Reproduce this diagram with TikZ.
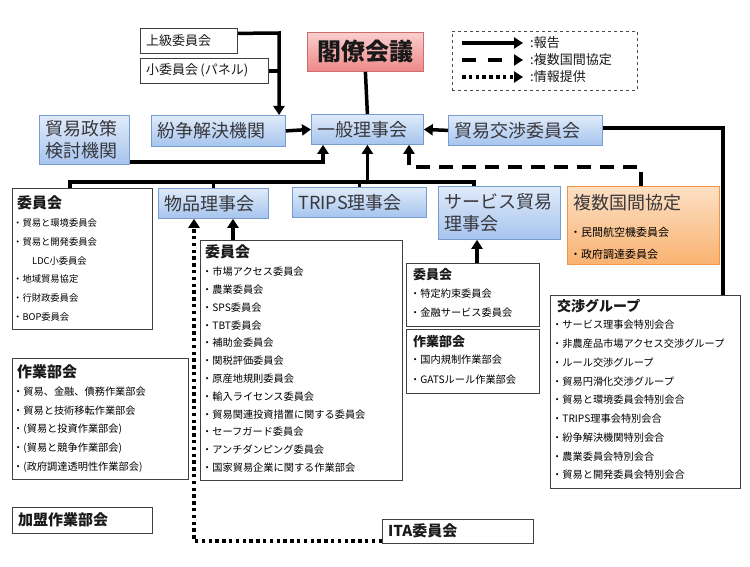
\documentclass[tikz,border=0pt]{standalone}
\usepackage{fontspec}
\setmainfont{Noto Sans CJK JP}
\usetikzlibrary{arrows.meta}
\definecolor{bluetop}{RGB}{224,235,250}
\definecolor{bluebot}{RGB}{166,196,238}
\definecolor{blueline}{RGB}{118,156,208}
\definecolor{redtop}{RGB}{250,206,206}
\definecolor{redbot}{RGB}{238,136,136}
\definecolor{redline}{RGB}{205,110,108}
\definecolor{orgtop}{RGB}{253,224,196}
\definecolor{orgbot}{RGB}{249,178,112}
\definecolor{orgline}{RGB}{240,150,70}
\definecolor{textgray}{RGB}{55,55,60}
\begin{document}
\begin{tikzpicture}[x=1pt,y=-1pt,
  bluebox/.style={draw=blueline, line width=0.8pt, top color=bluetop, bottom color=bluebot,
    text=textgray, font=\fontsize{18}{22}\selectfont, align=left, inner xsep=6pt, inner ysep=0pt, anchor=north west},
  plainbox/.style={draw=black!75, line width=0.8pt, fill=white, anchor=north west, inner sep=0pt},
  conline/.style={line width=3.5pt},
  conn/.style={line width=3.5pt, -{Triangle[length=9pt,width=11pt]}},
  dashconn/.style={line width=3.5pt, dash pattern=on 14pt off 9pt, -{Triangle[length=9pt,width=11pt]}},
  dotconn/.style={line width=3.5pt, dash pattern=on 3.5pt off 3.3pt, -{Triangle[length=9pt,width=11pt]}},
  item/.style={anchor=west, inner sep=0pt, text=black, font=\fontsize{10.2}{12}\selectfont},
  smallitem/.style={anchor=west, inner sep=0pt, text=black, font=\fontsize{9.3}{11}\selectfont},
  head/.style={anchor=west, inner sep=0pt, text=black!90, font=\bfseries\fontsize{15}{18}\selectfont},
  headsm/.style={anchor=west, inner sep=0pt, text=black!90, font=\bfseries\fontsize{13}{16}\selectfont},
  legtext/.style={anchor=west, inner sep=0pt, text=black!90, font=\fontsize{13}{15}\selectfont}]
\useasboundingbox (0,0) rectangle (750,567);
\fill[white] (0,0) rectangle (750,567);

% ---- top boxes
\node[draw=redline, line width=0.8pt, top color=redtop, bottom color=redbot, anchor=north west,
  minimum width=116pt, minimum height=39pt, inner sep=0pt, text=black!90,
  font=\bfseries\fontsize{24}{28}\selectfont] (kakuryo) at (307,32) {閣僚会議};
\node[plainbox, minimum width=97pt, minimum height=25pt] (jokyu) at (140,28) {};
\node[anchor=west, inner sep=0pt, font=\fontsize{13}{15}\selectfont, text=black!90] (jokyut) at (146,40.5) {上級委員会};
\node[plainbox, minimum width=128pt, minimum height=25pt] (shoi) at (140,58) {};
\node[anchor=west, inner sep=0pt, font=\fontsize{13}{15}\selectfont, text=black!90] (shoit) at (146,70.5) {小委員会\,(パネル)};

\node[bluebox, text width=78pt, minimum height=49pt] (seisaku) at (39,115) {貿易政策\\検討機関};
\node[bluebox, text width=122pt, minimum height=31pt] (funso) at (151,115) {紛争解決機関};
\node[bluebox, text width=100pt, minimum height=30pt] (ippan) at (311,114) {一般理事会};
\node[bluebox, text width=142pt, minimum height=30pt] (kosho) at (448,115) {貿易交渉委員会};

% ---- legend
\node[draw=black!70, dashed, line width=0.8pt, anchor=north west, minimum width=185pt, minimum height=59pt, inner sep=0pt] (legend) at (452,31) {};
\coordinate (l1a) at (462,43); \coordinate (l1b) at (523,43);
\coordinate (l2a) at (462,60); \coordinate (l2b) at (523,60);
\coordinate (l3a) at (462,77); \coordinate (l3b) at (523,77);
\draw[conn] (l1a) -- (l1b);
\draw[line width=3.5pt, dash pattern=on 14pt off 12pt, -{Triangle[length=9pt,width=11pt]}] (l2a) -- (l2b);
\draw[dotconn] (l3a) -- (l3b);
\node[legtext] (lt1) at (530,43) {:報告};
\node[legtext] (lt2) at (530,60) {:複数国間協定};
\node[legtext] (lt3) at (530,77) {:情報提供};

% ---- second row
\node[bluebox, text width=98pt, minimum height=30pt] (buppin) at (158,188) {物品理事会};
\node[bluebox, text width=122pt, minimum height=30pt] (trips) at (292,187) {TRIPS理事会};
\node[bluebox, text width=110pt, minimum height=53pt] (service) at (438,186) {サービス貿易\\理事会};
\node[draw=orgline, line width=0.8pt, top color=orgtop, bottom color=orgbot, anchor=north west,
  minimum width=152pt, minimum height=78pt, inner sep=0pt] (fukusu) at (567,186) {};
\node[anchor=west, inner sep=0pt, text=textgray, font=\fontsize{18}{22}\selectfont] (fukusuh) at (573,203) {複数国間協定};
\node[anchor=west, inner sep=0pt, text=black, font=\fontsize{11}{13}\selectfont] (fk1) at (570,232) {・民間航空機委員会};
\node[anchor=west, inner sep=0pt, text=black, font=\fontsize{11}{13}\selectfont] (fk2) at (570,254) {・政府調達委員会};

% ---- left committees
\node[plainbox, minimum width=140pt, minimum height=141pt] (iinkaiL) at (12,188) {};
\node[head] (iLh) at (17,203) {委員会};
\node[smallitem] (iL1) at (13,223) {・貿易と環境委員会};
\node[smallitem] (iL2) at (13,241.8) {・貿易と開発委員会};
\node[smallitem] (iL3) at (32,260.6) {LDC小委員会};
\node[smallitem] (iL4) at (13,279.4) {・地域貿易協定};
\node[smallitem] (iL5) at (13,298.2) {・行財政委員会};
\node[smallitem] (iL6) at (13,317) {・BOP委員会};

\node[plainbox, minimum width=176pt, minimum height=121pt] (sagyoL) at (12,358) {};
\node[head] (sLh) at (17,372) {作業部会};
\foreach \t [count=\i] in {・貿易、金融、債務作業部会,・貿易と技術移転作業部会,・(貿易と投資作業部会),・(貿易と競争作業部会),・(政府調達透明性作業部会)}
  \node[item] (sL\i) at (13,373.25+\i*18.75) {\t};

\node[plainbox, minimum width=140pt, minimum height=26pt] (kamei) at (12,507) {};
\node[head] (kameit) at (18,520) {加盟作業部会};

% ---- goods committees
\node[plainbox, minimum width=202pt, minimum height=240pt] (iinkaiB) at (200,240) {};
\node[head] (iBh) at (205,252) {委員会};
\foreach \t [count=\i] in {・市場アクセス委員会,・農業委員会,・SPS委員会,・TBT委員会,・補助金委員会,・関税評価委員会,・原産地規則委員会,・輸入ライセンス委員会,・貿易関連投資措置に関する委員会,・セーフガード委員会,・アンチダンピング委員会,・国家貿易企業に関する作業部会}
  \node[item] (iB\i) at (202,254+\i*17.8) {\t};

\node[plainbox, minimum width=151pt, minimum height=24pt] (ita) at (382,519) {};
\node[head] (itat) at (388,531) {ITA委員会};

% ---- services sub-boxes
\node[plainbox, minimum width=133pt, minimum height=63pt] (iinkaiS) at (406,263) {};
\node[headsm] (iSh) at (413,275) {委員会};
\node[item] (iS1) at (410,294) {・特定約束委員会};
\node[item] (iS2) at (410,313) {・金融サービス委員会};
\node[plainbox, minimum width=133pt, minimum height=64pt] (sagyoS) at (406,329) {};
\node[headsm] (sSh) at (413,342) {作業部会};
\node[item] (sS1) at (410,360) {・国内規制作業部会};
\node[item] (sS2) at (410,380) {・GATSルール作業部会};

% ---- negotiating groups
\node[plainbox, minimum width=190pt, minimum height=193pt] (koshoG) at (550,295) {};
\node[head, font=\bfseries\fontsize{14}{17}\selectfont] (kGh) at (557,306) {交渉グループ};
\foreach \t [count=\i] in {・サービス理事会特別会合,・非農産品市場アクセス交渉グループ,・ルール交渉グループ,・貿易円滑化交渉グループ,・貿易と環境委員会特別会合,・TRIPS理事会特別会合,・紛争解決機関特別会合,・農業委員会特別会合,・貿易と開発委員会特別会合}
  \node[item] (kG\i) at (552,306.25+\i*18.75) {\t};

% ---- connectors
\coordinate (jx) at (279,33);
\draw[conn] ([yshift=7.5pt]jokyu.east) -- (jx) -- (funso.north -| jx);
\draw[conline] (shoi.east) -- (shoi.east -| jx);
\draw[conline] (kakuryo.south) -- (ippan.north);
\draw[conn] (funso.east) -- (ippan.west);
\draw[conn] (kosho.west) -- (ippan.east);
\coordinate (sp) at (323,162);
\draw[conn] (seisaku.east |- sp) -- (sp) -- (ippan.south -| sp);
\coordinate (kr) at (723,128);
\draw[conline] (kosho.east |- kr) -- (kr) -- (koshoG.north -| kr);

\coordinate (busL) at (70,182);
\coordinate (busR) at (474,182);
\draw[conline] (iinkaiL.north -| busL) -- (busL) -- (busR) -- (service.north -| busR);
\draw[conline] (buppin.north) -- (buppin.north |- busL);
\draw[conline] (trips.north) -- (trips.north |- busL);
\draw[conn] (ippan.south |- busL) -- (ippan.south);

\coordinate (dR) at (641,167);
\coordinate (dL) at (409,167);
\draw[dashconn] (fukusu.north -| dR) -- (dR) -- (dL) -- (ippan.south -| dL);

\coordinate (ba) at (233,230);
\draw[conn] (iinkaiB.north -| ba) -- (buppin.south -| ba);
\coordinate (sa) at (477,250);
\draw[conn] (iinkaiS.north -| sa) -- (service.south -| sa);

\coordinate (dotc) at (194,541);
\draw[dotconn] (ita.west |- dotc) -- (dotc) -- (buppin.south -| dotc);
\end{tikzpicture}
\end{document}
